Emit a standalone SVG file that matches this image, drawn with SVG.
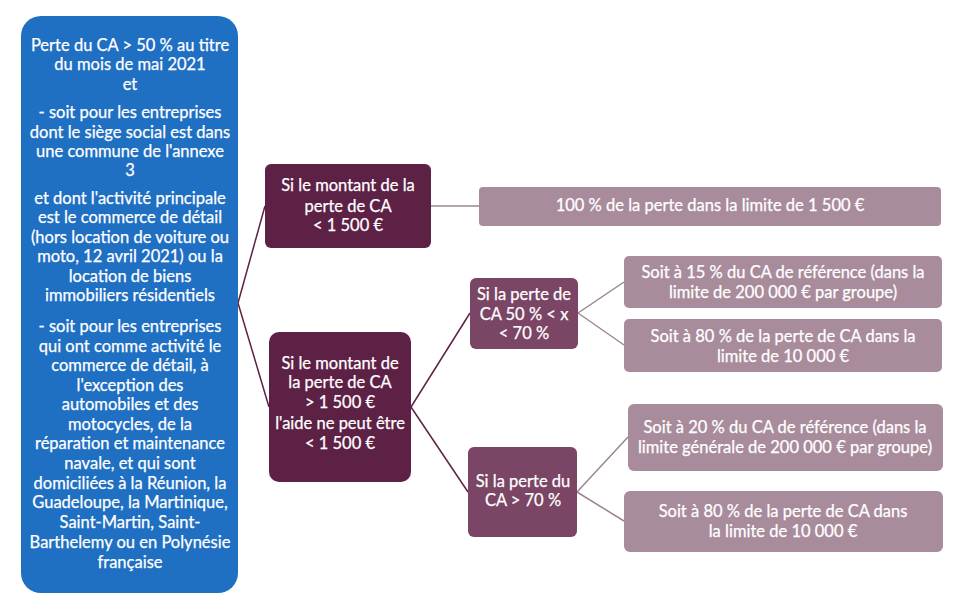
<svg xmlns="http://www.w3.org/2000/svg" width="963" height="605" viewBox="0 0 963 605">
<style>
text{font-family:Lato,"Open Sans","Liberation Sans",sans-serif;font-size:16.5px;fill:#fff;stroke:#fff;stroke-width:0.25;text-anchor:middle}
.blue{fill:#1f6fc3}
.dark{fill:#5e2146}
.mid{fill:#7b4565}
.light{fill:#a98c9c}
.c1{stroke:#5e2146;stroke-width:1.5;fill:none}
.c2{stroke:#9d8493;stroke-width:1.5;fill:none}
</style>
<rect width="963" height="605" fill="#fff"/>
<g id="connectors">
<line class="c1" x1="238" y1="303" x2="265" y2="206"/>
<line class="c1" x1="238" y1="303" x2="269" y2="407"/>
<line class="c2" x1="431" y1="206" x2="479" y2="206"/>
<line class="c1" x1="411" y1="407" x2="470" y2="313"/>
<line class="c1" x1="411" y1="407" x2="468" y2="492"/>
<line class="c2" x1="578" y1="313" x2="624" y2="282"/>
<line class="c2" x1="578" y1="313" x2="624" y2="345"/>
<line class="c2" x1="577" y1="492" x2="628" y2="437"/>
<line class="c2" x1="577" y1="492" x2="624" y2="521"/>
</g>
<g id="condition">
<rect class="blue" x="21" y="16" width="217" height="577" rx="20"/>
<text x="130" y="51">Perte du CA &gt; 50 % au titre</text>
<text x="130" y="70">du mois de mai 2021</text>
<text x="130" y="90">et</text>
<text x="130" y="118">- soit pour les entreprises</text>
<text x="130" y="137.5">dont le siège social est dans</text>
<text x="130" y="156.5">une commune de l'annexe</text>
<text x="130" y="176">3</text>
<text x="130" y="204">et dont l'activité principale</text>
<text x="130" y="223">est le commerce de détail</text>
<text x="130" y="243">(hors location de voiture ou</text>
<text x="130" y="262">moto, 12 avril 2021) ou la</text>
<text x="130" y="282">location de biens</text>
<text x="130" y="301">immobiliers résidentiels</text>
<text x="130" y="332">- soit pour les entreprises</text>
<text x="130" y="352">qui ont comme activité le</text>
<text x="130" y="371">commerce de détail, à</text>
<text x="130" y="391">l'exception des</text>
<text x="130" y="410">automobiles et des</text>
<text x="130" y="430">motocycles, de la</text>
<text x="130" y="449">réparation et maintenance</text>
<text x="130" y="469">navale, et qui sont</text>
<text x="130" y="489">domiciliées à la Réunion, la</text>
<text x="130" y="508">Guadeloupe, la Martinique,</text>
<text x="130" y="528">Saint-Martin, Saint-</text>
<text x="130" y="548">Barthelemy ou en Polynésie</text>
<text x="130" y="568">française</text>
</g>
<g id="under1500">
<rect class="dark" x="265" y="164" width="166" height="84" rx="6"/>
<text x="348" y="191">Si le montant de la</text>
<text x="348" y="211.5">perte de CA</text>
<text x="348" y="231">&lt; 1 500 €</text>
</g>
<g id="over1500">
<rect class="dark" x="269" y="332" width="142" height="150" rx="10"/>
<text x="340" y="368.5">Si le montant de</text>
<text x="340" y="388">la perte de CA</text>
<text x="340" y="407.5">&gt; 1 500 €</text>
<text x="340" y="429">l'aide ne peut être</text>
<text x="340" y="448.5">&lt; 1 500 €</text>
</g>
<g id="loss50to70">
<rect class="mid" x="470" y="278" width="108" height="71" rx="6"/>
<text x="524" y="300">Si la perte de</text>
<text x="524" y="319.5">CA 50 % &lt; x</text>
<text x="524" y="339">&lt; 70 %</text>
</g>
<g id="lossOver70">
<rect class="mid" x="468" y="447" width="109" height="90" rx="6"/>
<text x="523" y="486.5">Si la perte du</text>
<text x="523" y="506">CA &gt; 70 %</text>
</g>
<g id="result100">
<rect class="light" x="479" y="187" width="462" height="39" rx="4"/>
<text x="710" y="211">100 % de la perte dans la limite de 1 500 €</text>
</g>
<g id="result15">
<rect class="light" x="624" y="256" width="318" height="52" rx="5"/>
<text x="783" y="278">Soit à 15 % du CA de référence (dans la</text>
<text x="783" y="297.5">limite de 200 000 € par groupe)</text>
</g>
<g id="result80a">
<rect class="light" x="624" y="319" width="318" height="53" rx="5"/>
<text x="783" y="342">Soit à 80 % de la perte de CA dans la</text>
<text x="783" y="361.5">limite de 10 000 €</text>
</g>
<g id="result20">
<rect class="light" x="628" y="404" width="315" height="67" rx="6"/>
<text x="785" y="433">Soit à 20 % du CA de référence (dans la</text>
<text x="785" y="453">limite générale de 200 000 € par groupe)</text>
</g>
<g id="result80b">
<rect class="light" x="624" y="491" width="319" height="61" rx="6"/>
<text x="783" y="517">Soit à 80 % de la perte de CA dans</text>
<text x="783" y="537">la limite de 10 000 €</text>
</g>
</svg>
